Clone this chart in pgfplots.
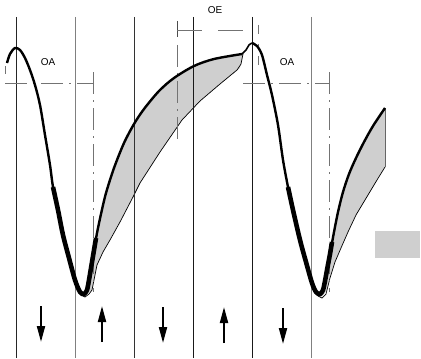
\documentclass[border=0pt]{standalone}
\usepackage{fontspec}
\setmainfont{Liberation Sans}
\usepackage{pgfplots}
\pgfplotsset{compat=1.18}
\usetikzlibrary{arrows.meta}
\begin{document}
\begin{tikzpicture}
\begin{axis}[
  width=421bp, height=358bp, scale only axis,
  xmin=0, xmax=421, ymin=0, ymax=358, y dir=reverse,
  hide axis, clip=false,
]
% bounding
\addplot[draw=none] coordinates {(0,0) (421,358)};
% shaded regions
\addplot[fill=black!19, draw=none] coordinates {
 (84,294) (87,290) (89,280) (91,268) (94,250) (97,233) (101,214) (106,193) (114,168) (124,143) (134,124) (144,109) (159,91) (174,78) (194,66) (214,59) (243,54)
 (240,68) (220,84) (200,101) (182,120) (160,152) (140,183) (133,197) (120,222) (110,240) (103,252) (97,265) (94,280) (92,290) (85,296)};
\addplot[fill=black!19, draw=none] coordinates {
 (320,294) (323,290) (325,281) (327,270) (330,254) (334,232) (338,212) (343,192) (349,174) (356,158) (364,142) (373,126) (385,108)
 (385,167) (377,180) (368,195) (356,215) (348,232) (341,248) (335,262) (330,278) (327,290) (322,297)};
\addplot[fill=black!19, draw=none] coordinates {(375,231) (420,231) (420,258) (375,258)};
% thin lower boundaries
\addplot[black, line width=0.7bp] coordinates {
 (78,290) (81,295) (85,297) (89,294) (92,290) (94,280) (97,265) (103,252) (110,240) (120,222) (133,197) (140,183) (160,152) (182,120) (200,101) (220,84) (237,70) (241,64) (243,54)};
\addplot[black, line width=0.7bp] coordinates {
 (314,290) (318,296) (322,298) (326,294) (330,278) (335,262) (341,248) (348,232) (356,215) (368,195) (377,180) (385,167)};
\addplot[black!60, line width=0.5bp] coordinates {(385,108) (385,167)};
% vertical grid lines
\addplot[black!85, line width=0.8bp] coordinates {(16,17) (16,358)};
\addplot[black!50, line width=0.8bp] coordinates {(75,17) (75,358)};
\addplot[black!80, line width=0.8bp] coordinates {(134,17) (134,358)};
\addplot[black!90, line width=0.8bp] coordinates {(193,17) (193,358)};
\addplot[black!90, line width=0.8bp] coordinates {(252,17) (252,358)};
\addplot[black!50, line width=0.8bp] coordinates {(311,17) (311,358)};
% dash-dot construction lines
\addplot[black!55, line width=0.8bp, dash pattern=on 22bp off 6bp on 2bp off 6bp] coordinates {(5,83) (93,83)};
\addplot[black!55, line width=0.8bp, dash pattern=on 22bp off 6bp on 2bp off 6bp] coordinates {(93,72) (93,292)};
\addplot[black!55, line width=0.8bp, dash pattern=on 10bp off 4bp] coordinates {(5,66) (5,74)};
\addplot[black!55, line width=0.8bp, dash pattern=on 22bp off 6bp on 2bp off 6bp] coordinates {(243,83) (329,83)};
\addplot[black!55, line width=0.8bp, dash pattern=on 22bp off 6bp on 2bp off 6bp] coordinates {(329,72) (329,292)};
% OE bracket
\addplot[black!70, line width=0.8bp] coordinates {(177,21) (177,37)};
\addplot[black!55, line width=0.8bp, dash pattern=on 25bp off 16bp] coordinates {(177,30) (252,30)};
\addplot[black!55, line width=0.8bp, dash pattern=on 22bp off 6bp on 2bp off 6bp] coordinates {(177,45) (177,142)};
\addplot[black!55, line width=0.8bp, dash pattern=on 9bp off 10bp on 2bp off 10bp] coordinates {(258,25) (258,72)};
% main thick curves
\addplot[black, line width=2.4bp, smooth, tension=0.5] coordinates {
 (7,63) (10,54) (15,48) (20,50) (25,58) (30,70) (35,85) (40,105) (45,135) (50,165) (53,187) (58,210) (63,235) (69,258) (75,280) (80,292) (84,294) (87,290) (89,280) (91,268) (94,250) (97,233) (101,214) (106,193) (114,168) (124,143) (134,124) (144,109) (159,91) (174,78) (194,66) (214,59) (242,54)};
\addplot[black, line width=1.6bp, smooth, tension=0.5] coordinates {(242,54) (246,50) (249,45) (252,43)};
\addplot[black, line width=2.4bp, smooth, tension=0.5] coordinates {
 (252,43) (257,46) (262,55) (267,75) (272,95) (278,125) (283,160) (288,187) (293,210) (300,240) (306,262) (312,283) (316,292) (320,294) (323,290) (325,281) (327,270) (330,254) (334,232) (338,212) (343,192) (349,174) (356,158) (364,142) (373,126) (385,108)};
% bold segments
\addplot[black, line width=4.6bp, smooth, tension=0.5] coordinates {
 (53,187) (58,210) (63,235) (69,258) (75,280) (80,292) (84,294) (87,290) (89,280) (91,268) (94,250) (96,238)};
\addplot[black, line width=4.6bp, smooth, tension=0.5] coordinates {
 (288,187) (293,210) (300,240) (306,262) (312,283) (316,292) (320,294) (323,290) (325,281) (327,270) (330,254) (332,242)};
% arrows
\addplot[black, line width=2bp, -{Triangle[length=16bp, width=8bp]}] coordinates {(41,306) (41,342)};
\addplot[black, line width=2bp, -{Triangle[length=16bp, width=8bp]}] coordinates {(102,342) (102,306)};
\addplot[black, line width=2bp, -{Triangle[length=16bp, width=8bp]}] coordinates {(163,307) (163,343)};
\addplot[black, line width=2bp, -{Triangle[length=16bp, width=8bp]}] coordinates {(224,343) (224,307)};
\addplot[black, line width=2bp, -{Triangle[length=16bp, width=8bp]}] coordinates {(283,308) (283,344)};
% labels
\node[font=\fontsize{10}{12}\selectfont] at (axis cs:48,62) {OA};
\node[font=\fontsize{10}{12}\selectfont] at (axis cs:215,10) {OE};
\node[font=\fontsize{10}{12}\selectfont] at (axis cs:287,62) {OA};
\end{axis}
\end{tikzpicture}
\end{document}
